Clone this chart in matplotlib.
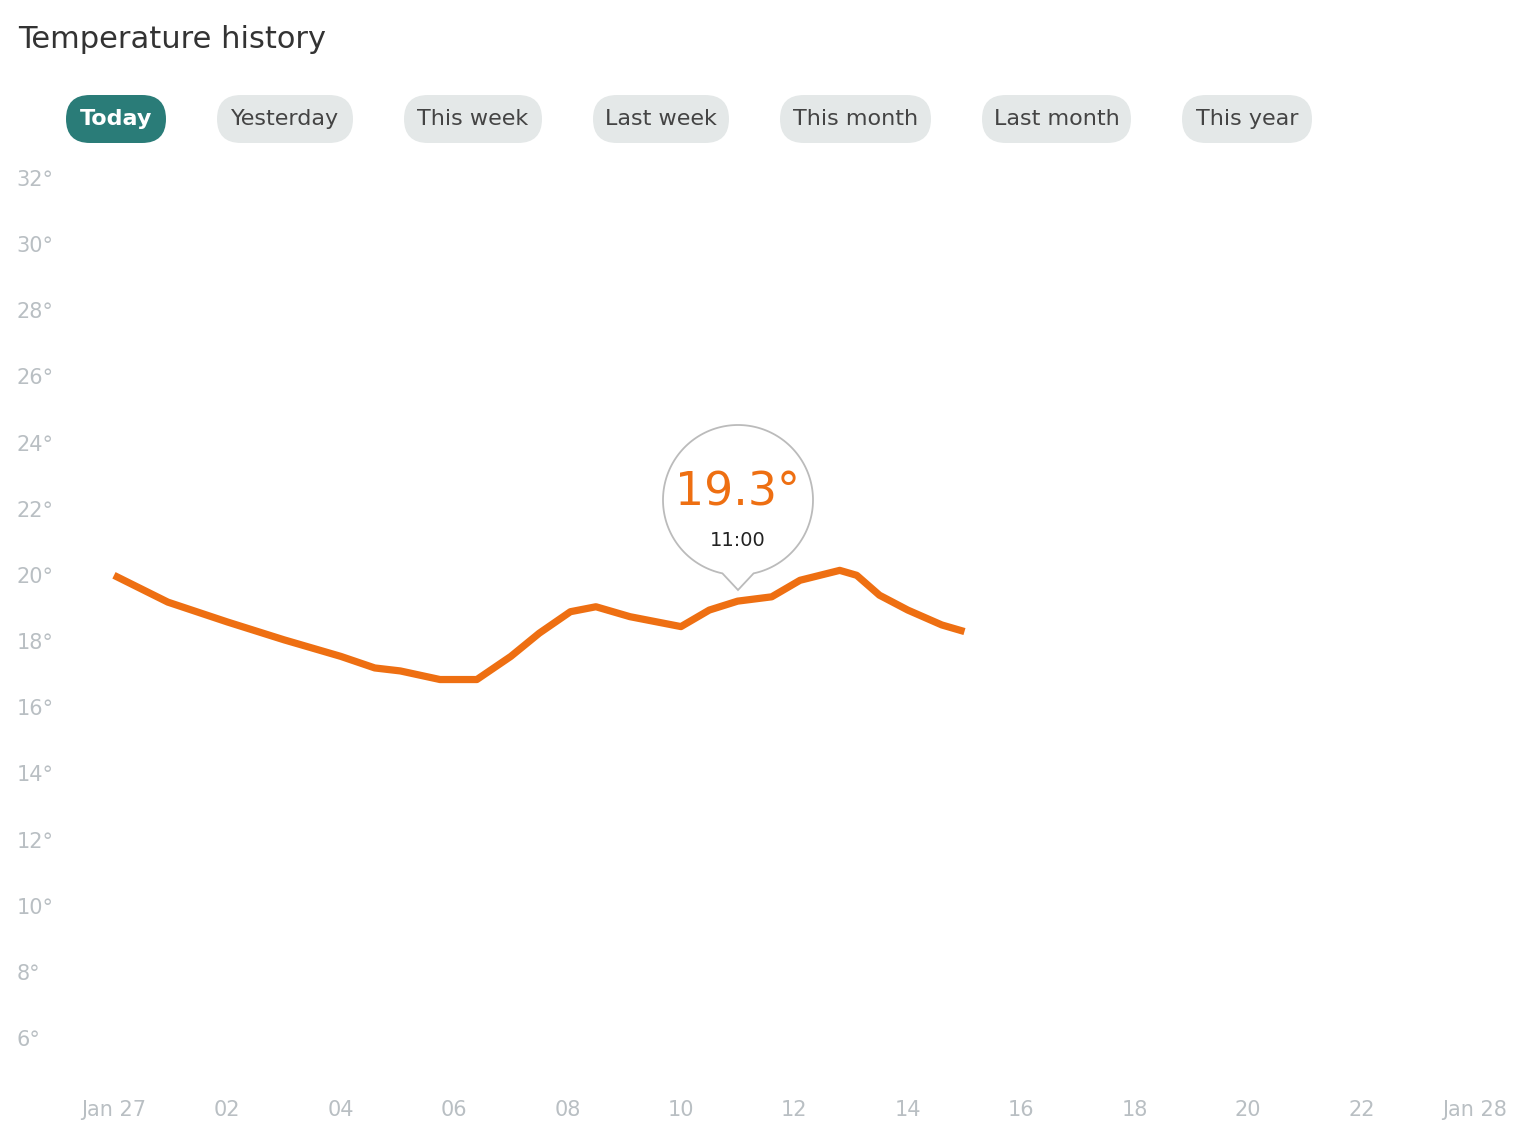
import numpy as np
import matplotlib
matplotlib.use("Agg")
import matplotlib.pyplot as plt
from matplotlib.patches import FancyBboxPatch, Polygon

hours = [0, 0.95, 2, 3, 4, 4.6, 5.05, 5.75, 6.4, 7, 7.5, 8.05, 8.5, 9.1, 10, 10.5, 11, 11.6, 12.1, 12.8, 13.1, 13.5, 14, 14.6, 15]
temps = [20.05, 19.24, 18.64, 18.1, 17.6, 17.25, 17.16, 16.9, 16.9, 17.6, 18.3, 18.95, 19.1, 18.8, 18.5, 19.0, 19.27, 19.4, 19.9, 20.2, 20.05, 19.45, 19.0, 18.55, 18.35]
y_ticks = [32, 30, 28, 26, 24, 22, 20, 18, 16, 14, 12, 10, 8, 6]
x_ticks = [0, 2, 4, 6, 8, 10, 12, 14, 16, 18, 20, 22, 24]
x_labels = ["Jan 27", "02", "04", "06", "08", "10", "12", "14", "16", "18", "20", "22", "Jan 28"]
buttons = ["Today", "Yesterday", "This week", "Last week", "This month", "Last month", "This year"]
btn_x = [(66, 166), (217, 353), (404, 542), (593, 729), (780, 931), (982, 1131), (1182, 1312)]

ORANGE = "#EE6F12"; TEAL = "#2A7C78"; GRAYBTN = "#E4E8E8"; LBL = "#B9BFC3"
fig = plt.figure(figsize=(15.36, 11.47), dpi=100)
ax = fig.add_axes([0, 0, 1, 1])
ax.set_xlim(-2.01, 25.08)
ax.set_ylim(2.77, 37.44)
ax.axis("off")
ax.plot(hours, temps, color=ORANGE, lw=5.2, solid_capstyle="butt", solid_joinstyle="round")
for t in y_ticks:
    ax.text(-1.72, t, f"{t}°", ha="left", va="center", fontsize=15, color=LBL)
for h, l in zip(x_ticks, x_labels):
    ax.text(h, 3.89, l, ha="center", va="center", fontsize=15, color=LBL)

ov = fig.add_axes([0, 0, 1, 1])
ov.set_xlim(0, 1536); ov.set_ylim(1147, 0); ov.axis("off"); ov.patch.set_alpha(0)
ov.text(18, 40, "Temperature history", fontsize=22, color="#333333", va="center", ha="left")
for i, (name, (x0, x1)) in enumerate(zip(buttons, btn_x)):
    fc = TEAL if i == 0 else GRAYBTN
    tc = "white" if i == 0 else "#444444"
    ov.add_patch(FancyBboxPatch((x0, 95), x1 - x0, 48,
                                boxstyle="round,pad=0,rounding_size=24", fc=fc, ec="none"))
    ov.text((x0 + x1) / 2, 119, name, ha="center", va="center", fontsize=16, color=tc,
            fontweight="bold" if i == 0 else "normal")

cx, cy, r = 738, 500, 75
ang = np.linspace(np.radians(90 + 12), np.radians(90 + 348), 200)
pts = [(cx + r * np.cos(a), cy + r * np.sin(a)) for a in ang]
pts.append((cx, 590))
ov.add_patch(Polygon(pts, closed=True, fc="white", ec="#BBBBBB", lw=1.3, zorder=5))
ov.text(cx, 493, "19.3°", ha="center", va="center", fontsize=33, color=ORANGE, zorder=6)
ov.text(cx, 541, "11:00", ha="center", va="center", fontsize=14, color="#222222", zorder=6)

fig.savefig("out.png", dpi=100, facecolor="white")
